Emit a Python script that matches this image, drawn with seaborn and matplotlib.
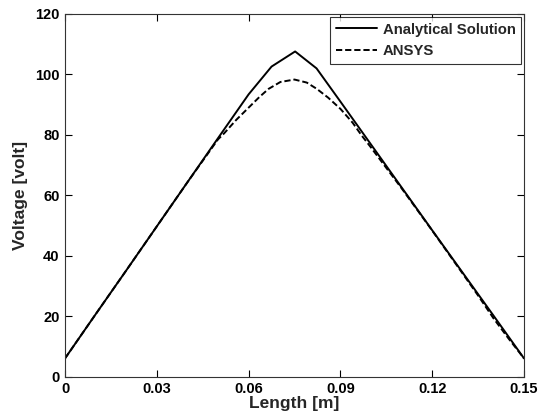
import matplotlib
matplotlib.use("Agg")
import matplotlib.pyplot as plt
import seaborn as sns
import pandas as pd

# Data
x_analytical = [0, 0.01, 0.02, 0.03, 0.04, 0.05, 0.06, 0.0675, 0.0752, 0.0822, 0.09,
                0.10, 0.11, 0.12, 0.13, 0.14, 0.15]
y_analytical = [6, 20.6, 35.1, 49.7, 64.3, 78.9, 93.4, 102.6, 107.6, 102, 91,
                76.8, 62.6, 48.4, 34.3, 20.2, 6]

x_ansys = [0, 0.01, 0.02, 0.03, 0.04, 0.05, 0.052, 0.056, 0.06, 0.0635, 0.0665, 0.0704,
           0.075, 0.079, 0.0823, 0.086, 0.09, 0.094, 0.097, 0.0997, 0.11, 0.12, 0.13,
           0.135, 0.14, 0.145, 0.15]
y_ansys = [6, 20.6, 35.1, 49.7, 64.3, 78.5, 80.5, 85, 89, 92.5, 95.2, 97.5,
           98.3, 97.3, 95.2, 92.3, 88.6, 84, 79.7, 76.2, 62.3, 48.3, 34,
           26.8, 19.3, 12.5, 6]

series_names = ["Analytical Solution", "ANSYS"]
x_ticks = [0, 0.03, 0.06, 0.09, 0.12, 0.15]
x_ticklabels = ["0", "0.03", "0.06", "0.09", "0.12", "0.15"]
y_ticks = [0, 20, 40, 60, 80, 100, 120]

df = pd.concat([
    pd.DataFrame({"x": x_analytical, "y": y_analytical, "series": series_names[0]}),
    pd.DataFrame({"x": x_ansys, "y": y_ansys, "series": series_names[1]}),
])

sns.set_style("ticks")
plt.rcParams["font.family"] = ["Liberation Sans", "DejaVu Sans"]
plt.rcParams["font.weight"] = "bold"

fig = plt.figure(figsize=(5.4, 4.19), dpi=100)
ax = fig.add_axes([0.1204, 0.1014, 0.85, 0.8652])

sns.lineplot(data=df, x="x", y="y", style="series", hue="series",
             palette=["black", "black"], dashes=[(None, None), (3.2, 1.5)],
             linewidth=1.4, ax=ax, sort=False, estimator=None)

ax.set_xlim(0, 0.15)
ax.set_ylim(0, 120)
ax.set_xticks(x_ticks)
ax.set_xticklabels(x_ticklabels)
ax.set_yticks(y_ticks)
ax.tick_params(direction="in", length=5, width=0.8, top=True, right=True,
               labelsize=10.5, colors="black", pad=4)
for lab in ax.get_xticklabels() + ax.get_yticklabels():
    lab.set_fontweight("bold")
for s in ax.spines.values():
    s.set_visible(True)
    s.set_linewidth(0.8)
    s.set_color("#333333")

ax.set_xlabel("Length [m]", fontsize=12.5, fontweight="bold", labelpad=0)
ax.set_ylabel("Voltage [volt]", fontsize=12.5, fontweight="bold", labelpad=5)

leg = ax.legend(loc="upper right", frameon=True, fancybox=False, edgecolor="black",
                prop={"weight": "bold", "size": 10.7}, borderaxespad=0.2,
                handlelength=2.8, handletextpad=0.35, borderpad=0.38,
                labelspacing=0.5)
leg.get_frame().set_linewidth(0.8)
for line in leg.get_lines():
    line.set_linewidth(1.4)

fig.savefig("out.png", dpi=100)
